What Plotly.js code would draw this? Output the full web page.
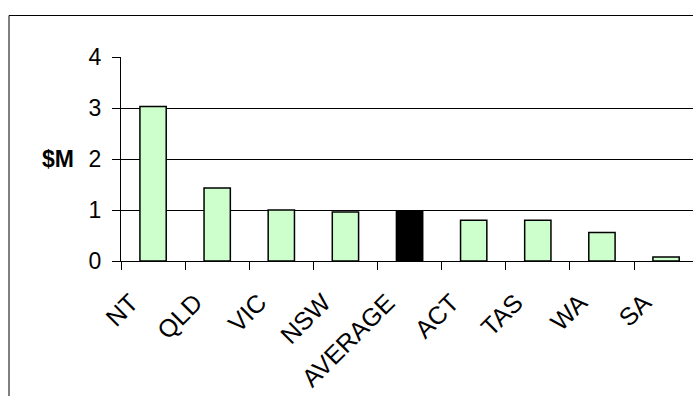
<!DOCTYPE html>
<html>
<head>
<meta charset="utf-8">
<script src="https://cdn.plot.ly/plotly-3.0.1.min.js"></script>
<style>
  html, body { margin: 0; padding: 0; background: #fff; overflow: hidden; }
  #chart { width: 693px; height: 396px; }
</style>
</head>
<body>
<div id="chart"></div>
<script>
// Funding by jurisdiction, $ millions
const regions = ["NT", "QLD", "VIC", "NSW", "AVERAGE", "ACT", "TAS", "WA", "SA"];
const amounts = [3.03, 1.43, 1.0, 0.96, 0.97, 0.8, 0.8, 0.56, 0.08];
const yTicks = [0, 1, 2, 3, 4];

const fillColours = regions.map(r => r === "AVERAGE" ? "#000000" : "#CCFFCC");

const family = "Liberation Sans, Arial, sans-serif";
const yFont = { family: family, size: 23, color: "#000" };
const xFont = { family: family, size: 25, color: "#000" };

const trace = {
  type: "bar",
  x: regions,
  y: amounts,
  marker: { color: fillColours, line: { color: "#000", width: 1.5 } },
  hoverinfo: "x+y"
};

const layout = {
  width: 693,
  height: 396,
  margin: { l: 121, r: 0, t: 57, b: 135, pad: 0 },
  paper_bgcolor: "#fff",
  plot_bgcolor: "#fff",
  font: yFont,
  showlegend: false,
  bargap: 0.59,
  xaxis: {
    type: "category",
    range: [-0.5, 8.42],
    showgrid: false,
    showline: true,
    linecolor: "#000",
    linewidth: 1,
    ticks: "outside",
    tickson: "boundaries",
    ticklen: 8,
    tickcolor: "#000",
    tickwidth: 1,
    tickangle: -45,
    ticklabelstandoff: 16,
    ticklabelshift: -22,
    tickfont: xFont
  },
  yaxis: {
    range: [0, 4],
    tickvals: yTicks,
    ticktext: yTicks.map(String),
    showgrid: true,
    gridcolor: "#000",
    gridwidth: 1,
    zeroline: false,
    showline: true,
    linecolor: "#000",
    linewidth: 1,
    ticks: "outside",
    ticklen: 8,
    tickcolor: "#000",
    tickwidth: 1,
    ticklabelstandoff: 6,
    tickfont: yFont
  },
  annotations: [{
    text: "<b>$M</b>",
    xref: "paper", yref: "y",
    x: -45 / 572, y: 2,
    xanchor: "right", yanchor: "middle",
    showarrow: false,
    font: yFont
  }],
  shapes: [{
    type: "rect",
    xref: "paper", yref: "paper",
    x0: (9 - 121) / 572, x1: (720 - 121) / 572,
    y0: (261 - 420) / 204, y1: (261 - 15.5) / 204,
    line: { color: "#000", width: 1 },
    fillcolor: "rgba(0,0,0,0)",
    layer: "below"
  }]
};

Plotly.newPlot("chart", [trace], layout, { staticPlot: true, displayModeBar: false });
</script>
</body>
</html>
